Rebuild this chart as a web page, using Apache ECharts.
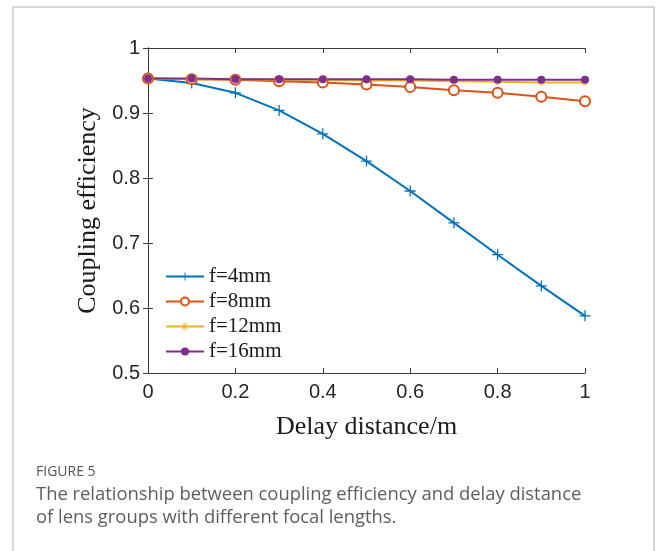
<!DOCTYPE html>
<html>
<head>
<meta charset="utf-8">
<script src="https://cdn.jsdelivr.net/npm/echarts@6/dist/echarts.min.js"></script>
<style>
html,body{margin:0;padding:0;background:#fff;}
#chart{width:658px;height:551px;}
</style>
</head>
<body>
<div id="chart"></div>
<script>
const xs = [0, 0.1, 0.2, 0.3, 0.4, 0.5, 0.6, 0.7, 0.8, 0.9, 1.0];
const f4  = [0.953, 0.946, 0.931, 0.904, 0.868, 0.826, 0.780, 0.731, 0.682, 0.634, 0.588];
const f8  = [0.953, 0.952, 0.951, 0.949, 0.947, 0.944, 0.940, 0.935, 0.931, 0.925, 0.918];
const f12 = [0.953, 0.952, 0.952, 0.951, 0.951, 0.950, 0.950, 0.949, 0.948, 0.947, 0.947];
const f16 = [0.953, 0.953, 0.952, 0.952, 0.952, 0.952, 0.952, 0.951, 0.951, 0.951, 0.951];
const seriesNames = ['f=4mm', 'f=8mm', 'f=12mm', 'f=16mm'];
const xTitle = 'Delay distance/m';
const yTitle = 'Coupling efficiency';
const figLabel = 'FIGURE 5';
const captionLines = ['The relationship between coupling efficiency and delay distance',
                      'of lens groups with different focal lengths.'];

const pairs = arr => xs.map((x, i) => [x, arr[i]]);
const colors = ['#0072BD', '#D95319', '#EDB120', '#7E2F8E'];
const plusPath = 'path://M-0.7,-6H0.7V6H-0.7Z M-6,-0.7H6V0.7H-6Z';
const starPath = 'path://M-0.6,-5H0.6V5H-0.6Z M-5,-0.6H5V0.6H-5Z M-3.9,-3.1L3.1,3.9L3.9,3.1L-3.1,-3.9Z M3.1,-3.9L-3.9,3.1L-3.1,3.9L3.9,-3.1Z';
const axisColor = '#3a3a3a';
const tickFont = {fontFamily: 'Liberation Sans, Arial, sans-serif', fontSize: 20, color: '#262626'};

const chart = echarts.init(document.getElementById('chart'), null, {renderer: 'canvas'});
chart.setOption({
  backgroundColor: '#fff',
  animation: false,
  grid: {left: 148, right: 73, top: 48, bottom: 178},
  legend: {
    orient: 'vertical', left: 160, top: 261, itemWidth: 38, itemHeight: 10, itemGap: 4,
    textStyle: {fontFamily: 'Liberation Serif, Times New Roman, serif', fontSize: 21, color: '#1a1a1a'},
    data: seriesNames
  },
  xAxis: [{
    type: 'value', min: 0, max: 1, interval: 0.2,
    name: xTitle, nameLocation: 'middle', nameGap: 41,
    nameTextStyle: {fontFamily: 'Liberation Serif, Times New Roman, serif', fontSize: 26, color: '#1a1a1a'},
    axisLine: {show: true, lineStyle: {color: axisColor, width: 1}},
    axisTick: {show: true, inside: true, length: 5, lineStyle: {color: axisColor}},
    axisLabel: Object.assign({margin: 9}, tickFont),
    splitLine: {show: false}
  }, {
    type: 'value', min: 0, max: 1, interval: 0.2, position: 'top',
    axisLine: {show: true, lineStyle: {color: axisColor, width: 1}},
    axisTick: {show: true, inside: true, length: 5, lineStyle: {color: axisColor}},
    axisLabel: {show: false}, splitLine: {show: false}
  }],
  yAxis: [{
    type: 'value', min: 0.5, max: 1, interval: 0.1,
    name: yTitle, nameLocation: 'middle', nameGap: 38,
    nameTextStyle: {fontFamily: 'Liberation Serif, Times New Roman, serif', fontSize: 26, color: '#1a1a1a'},
    axisLine: {show: true, lineStyle: {color: axisColor, width: 1}},
    axisTick: {show: true, inside: true, length: 5, lineStyle: {color: axisColor}},
    axisLabel: Object.assign({margin: 8}, tickFont),
    splitLine: {show: false}
  }, {
    type: 'value', min: 0.5, max: 1, interval: 0.1, position: 'right',
    axisLine: {show: true, lineStyle: {color: axisColor, width: 1}},
    axisTick: {show: true, inside: true, length: 5, lineStyle: {color: axisColor}},
    axisLabel: {show: false}, splitLine: {show: false}
  }],
  series: [
    {name: seriesNames[0], type: 'line', data: pairs(f4),
     lineStyle: {width: 2, color: colors[0]}, symbol: plusPath, symbolSize: 11,
     itemStyle: {color: colors[0]}},
    {name: seriesNames[1], type: 'line', data: pairs(f8),
     lineStyle: {width: 2, color: colors[1]}, symbol: 'emptyCircle', symbolSize: 10,
     itemStyle: {color: colors[1], borderColor: colors[1], borderWidth: 1.6}},
    {name: seriesNames[2], type: 'line', data: pairs(f12),
     lineStyle: {width: 2, color: colors[2]}, symbol: starPath, symbolSize: 7,
     itemStyle: {color: colors[2]}},
    {name: seriesNames[3], type: 'line', data: pairs(f16),
     lineStyle: {width: 2, color: colors[3]}, symbol: 'circle', symbolSize: 8,
     itemStyle: {color: colors[3]}}
  ],
  graphic: [
    {type: 'rect', silent: true, z: -1, shape: {x: 13, y: 7, width: 641, height: 600},
     style: {fill: 'none', stroke: '#cccccc', lineWidth: 1.5}},
    {type: 'text', left: 36, top: 465, style: {text: figLabel, fill: '#555555',
      font: '14px "Open Sans", sans-serif'}},
    {type: 'text', left: 36, top: 486, style: {text: captionLines[0], fill: '#5e5e5e',
      font: '18.4px "Open Sans", sans-serif'}},
    {type: 'text', left: 36, top: 509, style: {text: captionLines[1], fill: '#5e5e5e',
      font: '18.4px "Open Sans", sans-serif'}}
  ]
});
</script>
</body>
</html>
